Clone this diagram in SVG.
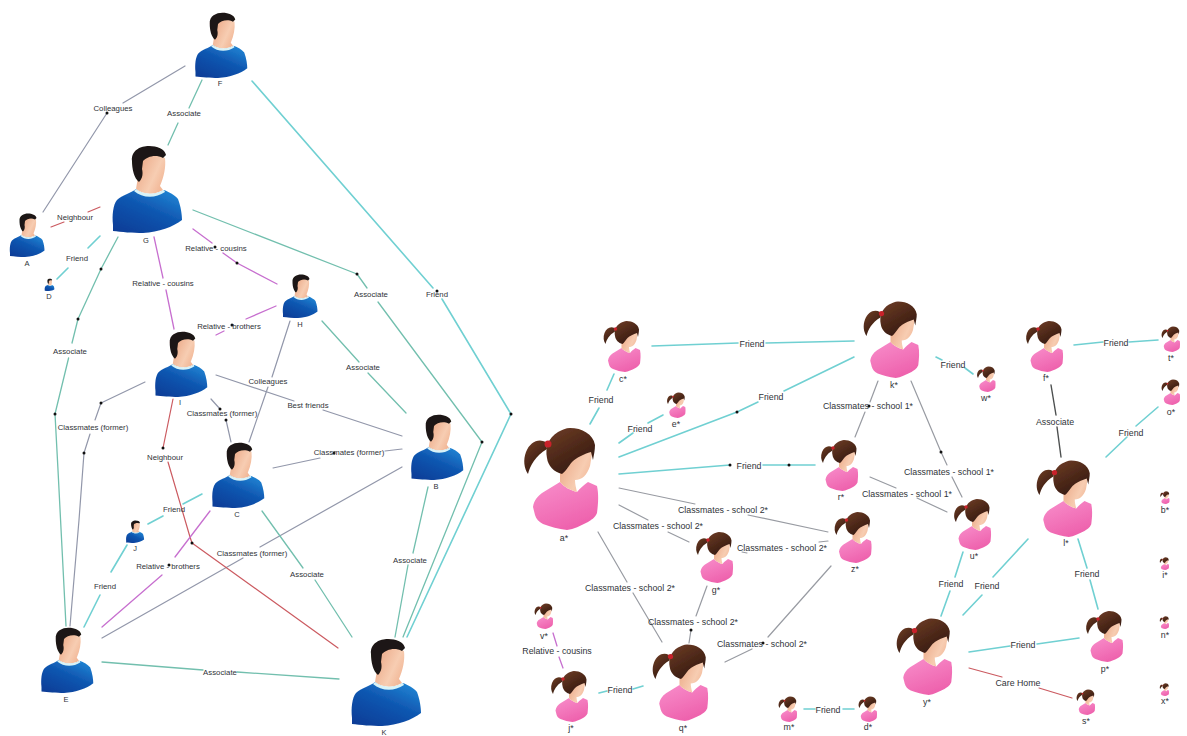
<svg xmlns="http://www.w3.org/2000/svg" width="1187" height="736" viewBox="0 0 1187 736">
<style>
text{font-family:"Liberation Sans",Arial,sans-serif;fill:#2f3338;text-anchor:middle}
.l{font-size:7.8px}
.r{font-size:8.8px}
.n{font-size:7.5px}
.m{font-size:8.8px}
path.c{fill:none;stroke-linecap:round;stroke-linejoin:round}
.fr{stroke:#70d0d2;stroke-width:1.6}
.as{stroke:#72bfae;stroke-width:1.3}
.cl{stroke:#9297aa;stroke-width:1.2}
.sc{stroke:#989ba2;stroke-width:1.2}
.re{stroke:#c76fcf;stroke-width:1.3}
.ne{stroke:#cb5a60;stroke-width:1.2}
.dk{stroke:#4d5050;stroke-width:1.4}
circle.d{fill:#111}
</style>
<defs>
<filter id="soft" x="-10%" y="-10%" width="120%" height="120%"><feGaussianBlur stdDeviation="0.5"/></filter>
<linearGradient id="blue" x1="0" y1="1" x2="0.7" y2="0">
<stop offset="0" stop-color="#0a3a94"/><stop offset="0.6" stop-color="#0f56b0"/><stop offset="1" stop-color="#1f80d0"/>
</linearGradient>
<linearGradient id="skin" x1="0" y1="0" x2="1" y2="0.6">
<stop offset="0" stop-color="#e9a27f"/><stop offset="0.7" stop-color="#f7cdb2"/><stop offset="1" stop-color="#f2b898"/>
</linearGradient>
<linearGradient id="pink" x1="0" y1="0" x2="0.5" y2="1">
<stop offset="0" stop-color="#f88ecb"/><stop offset="1" stop-color="#ee62ad"/>
</linearGradient>
<linearGradient id="brown" x1="0" y1="0" x2="0.6" y2="1">
<stop offset="0" stop-color="#6f3d26"/><stop offset="1" stop-color="#34190f"/>
</linearGradient>
<g id="man" filter="url(#soft)">
<path fill="url(#blue)" d="M-34,-8C-35,-18-34,-28-30,-33C-25,-38-16,-40-11,-44C-4,-37 8,-37 17,-43C22,-41 28,-38 31,-34C34,-26 35,-18 35,-13C26,-6 12,-1-4,0C-14,0-26,-1-34,-2Z"/>
<path fill="url(#skin)" d="M-9,-56L-11,-44C-4,-38 8,-38 16,-43L13,-47C17,-56 19,-66 18,-75C8,-80-2,-78-6,-72Z"/>
<path fill="#d8f3f8" d="M-11,-44C-4,-38 8,-38 17,-43L18,-41C8,-34-5,-35-13,-42Z"/>
<path fill="#1a1412" d="M-15,-72C-16,-83-6,-87 2,-87C10,-87 18,-84 19,-78L16,-75C8,-79 0,-76-4,-72L-5,-64C-4,-60-4,-55-8,-51C-13,-55-15,-64-15,-72Z"/>
</g>
<g id="woman" filter="url(#soft)">
<path fill="url(#pink)" d="M-33,-23C-32,-30-28,-34-24,-37L-6,-48C-2,-43 4,-40 11,-38C14,-42 18,-45 22,-48L31,-44C33,-35 32,-25 31,-17C29,-12 25,-10 22,-8C14,-4 8,-1 1,0C-8,-1-15,-3-23,-6C-27,-8-30,-11-31,-15Z"/>
<path fill="url(#skin)" d="M-6,-58L-6,-48C-2,-43 4,-40 11,-38C10,-42 9,-46 9,-50C16,-50 21,-55 24,-64L27,-82L5,-74Z"/>
<path fill="url(#brown)" d="M-20,-88C-28,-92-36,-88-40,-78C-43,-70-42,-62-38,-56C-36,-64-31,-74-19,-81Z"/>
<path fill="url(#brown)" d="M4,-102C16,-102 27,-96 29,-85C29,-80 28,-76 27,-70L25,-78C18,-76 10,-72 6,-68C2,-63-1,-58-4,-56C-12,-58-18,-64-19,-72C-21,-82-18,-92-8,-98C-4,-100 0,-102 4,-102Z"/>
<circle cx="-18" cy="-86" r="3.5" fill="#c8202a"/>
</g>
</defs>
<rect width="1187" height="736" fill="#fff"/>
<g id="connectors">
<path class="c cl" d="M185,66L123,103M107,113L43,212"/>
<path class="c as" d="M202,80L189,108M178,123L168,145"/>
<path class="c ne" d="M51,227L64,222M88,212L100,207"/>
<path class="c fr" d="M100,236L88,248M68,268L57,279"/>
<path class="c as" d="M118,237L101,269L78,319L72,343M68.600,358L55,414L58,470L66,626"/>
<path class="c cl" d="M145,382L101,403L95,420M90,434L84,453L79,520L70,626"/>
<path class="c re" d="M154,237L163,278M166,290L174,329"/>
<path class="c re" d="M193,229L212,243M223,253L237,263L277,284"/>
<path class="c as" d="M193,210L357,274L367,288M378,302L482,442L403,637"/>
<path class="c fr" d="M252,81L433,288M442,299L511,414L407,637"/>
<path class="c as" d="M322,321L359,362M368,373L406,413"/>
<path class="c re" d="M276,306L246,319M224,331L216,335"/>
<path class="c cl" d="M290,321L272,377M268,387L249,442"/>
<path class="c cl" d="M216,375L294,401M323,410L402,436"/>
<path class="c cl" d="M211,399L220,409M226,420L231,442"/>
<path class="c cl" d="M273,468L320,458M385,451L402,449"/>
<path class="c cl" d="M102,638L243,558M260,547L402,467"/>
<path class="c ne" d="M173,399L163,448M168,462L190,537L192,543L338,648"/>
<path class="c fr" d="M148,524L163,516M183,504L202,494"/>
<path class="c fr" d="M127,545L111,572M100,595L84,627"/>
<path class="c re" d="M210,511L175,557M162,575L102,627"/>
<path class="c as" d="M262,511L303,568M315,580L352,637"/>
<path class="c as" d="M102,662L203,670M237,672L339,679"/>
<path class="c as" d="M428,487L413,553M408,565L395,637"/>
<path class="c fr" d="M599,408L590,424M614,374L607,390"/>
<path class="c fr" d="M652,346L738,343M766,343L854,341"/>
<path class="c fr" d="M619,443L633,433M648,423L663,415"/>
<path class="c fr" d="M619,457L737,412L758,402M784,391L854,357"/>
<path class="c fr" d="M619,474L730,465M763,465L815,465"/>
<path class="c fr" d="M936,357L942,360M965,368L973,374"/>
<path class="c sc" d="M878,381L870,402M865,412L855,437"/>
<path class="c sc" d="M911,381L941,452L947,465M952,477L962,497"/>
<path class="c sc" d="M870,477L896,488M917,498L947,512"/>
<path class="c sc" d="M619,488L695,504M748,515L828,532"/>
<path class="c sc" d="M619,505L648,520M668,532L689,542"/>
<path class="c sc" d="M742,552L747,553M819,542L828,541"/>
<path class="c sc" d="M598,532L627,582M633,593L662,642"/>
<path class="c sc" d="M707,586L696,616M691,630L689,643"/>
<path class="c sc" d="M831,566L768,637M752,649L725,662"/>
<path class="c re" d="M553,633L557,646M559,657L563,668"/>
<path class="c fr" d="M599,693L607,691M633,689L643,686"/>
<path class="c fr" d="M804,709L815,709M843,709L854,709"/>
<path class="c dk" d="M1051,385L1056,415M1057,427L1061,457"/>
<path class="c fr" d="M1074,345L1103,342M1129,342L1158,340"/>
<path class="c fr" d="M1158,407L1136,426M1127,437L1106,457"/>
<path class="c fr" d="M963,552L955,577M950,591L941,616"/>
<path class="c fr" d="M1028,539L993,577M982,595L963,615"/>
<path class="c fr" d="M1078,539L1087,568M1090,580L1098,609"/>
<path class="c fr" d="M969,652L1010,646M1037,644L1079,638"/>
<path class="c ne" d="M969,668L1002,677M1039,688L1072,698"/>
<circle class="d" cx="107" cy="113" r="1.500"/><circle class="d" cx="101" cy="269" r="1.500"/><circle class="d" cx="78" cy="319" r="1.500"/><circle class="d" cx="55" cy="414" r="1.500"/><circle class="d" cx="101" cy="403" r="1.500"/><circle class="d" cx="84" cy="453" r="1.500"/><circle class="d" cx="215" cy="247" r="1.500"/><circle class="d" cx="237" cy="263" r="1.500"/><circle class="d" cx="357" cy="274" r="1.500"/><circle class="d" cx="482" cy="442" r="1.500"/><circle class="d" cx="437" cy="291" r="1.500"/><circle class="d" cx="511" cy="414" r="1.500"/><circle class="d" cx="232" cy="325" r="1.500"/><circle class="d" cx="220" cy="409" r="1.500"/><circle class="d" cx="226" cy="420" r="1.500"/><circle class="d" cx="334" cy="453" r="1.500"/><circle class="d" cx="163" cy="448" r="1.500"/><circle class="d" cx="192" cy="543" r="1.500"/><circle class="d" cx="169" cy="565" r="1.500"/>
<circle class="d" cx="737" cy="412" r="1.500"/><circle class="d" cx="730" cy="465" r="1.500"/><circle class="d" cx="789" cy="465" r="1.500"/><circle class="d" cx="869" cy="406" r="1.500"/><circle class="d" cx="941" cy="452" r="1.500"/><circle class="d" cx="691" cy="630" r="1.500"/><circle class="d" cx="763" cy="643" r="1.500"/>
<text class="l" x="113" y="111">Colleagues</text>
<text class="l" x="184" y="116">Associate</text>
<text class="l" x="75" y="220">Neighbour</text>
<text class="l" x="77" y="261">Friend</text>
<text class="l" x="70" y="354">Associate</text>
<text class="l" x="93" y="430">Classmates (former)</text>
<text class="l" x="163" y="286">Relative - cousins</text>
<text class="l" x="216" y="251">Relative - cousins</text>
<text class="l" x="371" y="297">Associate</text>
<text class="l" x="437" y="297">Friend</text>
<text class="l" x="363" y="370">Associate</text>
<text class="l" x="229" y="329">Relative - brothers</text>
<text class="l" x="268" y="384">Colleagues</text>
<text class="l" x="308" y="408">Best friends</text>
<text class="l" x="222" y="416">Classmates (former)</text>
<text class="l" x="349" y="455">Classmates (former)</text>
<text class="l" x="252" y="556">Classmates (former)</text>
<text class="l" x="165" y="460">Neighbour</text>
<text class="l" x="174" y="512">Friend</text>
<text class="l" x="105" y="589">Friend</text>
<text class="l" x="168" y="569">Relative - brothers</text>
<text class="l" x="307" y="577">Associate</text>
<text class="l" x="220" y="675">Associate</text>
<text class="l" x="410" y="563">Associate</text>
<text class="r" x="601" y="403">Friend</text>
<text class="r" x="752" y="347">Friend</text>
<text class="r" x="640" y="432">Friend</text>
<text class="r" x="771" y="400">Friend</text>
<text class="r" x="749" y="469">Friend</text>
<text class="r" x="953" y="368">Friend</text>
<text class="r" x="868" y="409">Classmates - school 1*</text>
<text class="r" x="949" y="475">Classmates - school 1*</text>
<text class="r" x="907" y="497">Classmates - school 1*</text>
<text class="r" x="723" y="513">Classmates - school 2*</text>
<text class="r" x="658" y="529">Classmates - school 2*</text>
<text class="r" x="782" y="551">Classmates - school 2*</text>
<text class="r" x="630" y="591">Classmates - school 2*</text>
<text class="r" x="693" y="625">Classmates - school 2*</text>
<text class="r" x="762" y="647">Classmates - school 2*</text>
<text class="r" x="557" y="654">Relative - cousins</text>
<text class="r" x="620" y="693">Friend</text>
<text class="r" x="828" y="713">Friend</text>
<text class="r" x="1055" y="425">Associate</text>
<text class="r" x="1116" y="346">Friend</text>
<text class="r" x="1131" y="436">Friend</text>
<text class="r" x="951" y="587">Friend</text>
<text class="r" x="987" y="589">Friend</text>
<text class="r" x="1087" y="577">Friend</text>
<text class="r" x="1023" y="648">Friend</text>
<text class="r" x="1018" y="686">Care Home</text>
</g>
<g id="F"><use href="#man" transform="translate(221 78) scale(.75)"/><text class="n" x="220" y="86">F</text></g>
<g id="G"><use href="#man" transform="translate(147 233) scale(1)"/><text class="n" x="146" y="243">G</text></g>
<g id="A"><use href="#man" transform="translate(27 257) scale(.5)"/><text class="n" x="27" y="266">A</text></g>
<g id="D"><use href="#man" transform="translate(49.500 291) scale(.14)"/><text class="n" x="49" y="299">D</text></g>
<g id="H"><use href="#man" transform="translate(300 318) scale(.5)"/><text class="n" x="300" y="327">H</text></g>
<g id="I"><use href="#man" transform="translate(181 397) scale(.75)"/><text class="n" x="180" y="405">I</text></g>
<g id="C"><use href="#man" transform="translate(238 508) scale(.75)"/><text class="n" x="237" y="517">C</text></g>
<g id="J"><use href="#man" transform="translate(135 543) scale(.26)"/><text class="n" x="135" y="551">J</text></g>
<g id="B"><use href="#man" transform="translate(437 480) scale(.75)"/><text class="n" x="436" y="489">B</text></g>
<g id="E"><use href="#man" transform="translate(67 693) scale(.75)"/><text class="n" x="66" y="702">E</text></g>
<g id="K"><use href="#man" transform="translate(386 726) scale(1)"/><text class="n" x="384" y="735">K</text></g>
<g id="a"><use href="#woman" transform="translate(566 530) scale(1)"/><text class="m" x="564" y="541">a*</text></g>
<g id="c"><use href="#woman" transform="translate(624.500 372) scale(.5)"/><text class="m" x="623" y="382">c*</text></g>
<g id="e"><use href="#woman" transform="translate(677.500 418) scale(.25)"/><text class="m" x="676" y="427">e*</text></g>
<g id="k"><use href="#woman" transform="translate(895 378) scale(.75)"/><text class="m" x="894" y="388">k*</text></g>
<g id="r"><use href="#woman" transform="translate(842 491) scale(.5)"/><text class="m" x="841" y="500">r*</text></g>
<g id="w"><use href="#woman" transform="translate(987.500 392) scale(.25)"/><text class="m" x="986" y="401">w*</text></g>
<g id="f"><use href="#woman" transform="translate(1047 372) scale(.5)"/><text class="m" x="1046" y="381">f*</text></g>
<g id="t"><use href="#woman" transform="translate(1172 352) scale(.25)"/><text class="m" x="1171" y="361">t*</text></g>
<g id="o"><use href="#woman" transform="translate(1172 405) scale(.25)"/><text class="m" x="1171" y="415">o*</text></g>
<g id="l"><use href="#woman" transform="translate(1068 537) scale(.75)"/><text class="m" x="1066" y="546">l*</text></g>
<g id="b"><use href="#woman" transform="translate(1165.500 504) scale(.125)"/><text class="m" x="1165" y="513">b*</text></g>
<g id="u"><use href="#woman" transform="translate(975 550) scale(.5)"/><text class="m" x="974" y="559">u*</text></g>
<g id="z"><use href="#woman" transform="translate(855.500 563) scale(.5)"/><text class="m" x="855" y="572">z*</text></g>
<g id="g"><use href="#woman" transform="translate(717 583) scale(.5)"/><text class="m" x="716" y="593">g*</text></g>
<g id="v"><use href="#woman" transform="translate(545 629) scale(.25)"/><text class="m" x="544" y="639">v*</text></g>
<g id="j"><use href="#woman" transform="translate(572 722) scale(.5)"/><text class="m" x="571" y="731">j*</text></g>
<g id="q"><use href="#woman" transform="translate(684 721) scale(.75)"/><text class="m" x="683" y="731">q*</text></g>
<g id="m"><use href="#woman" transform="translate(789 722) scale(.25)"/><text class="m" x="789" y="730">m*</text></g>
<g id="d"><use href="#woman" transform="translate(869 722) scale(.25)"/><text class="m" x="868" y="730">d*</text></g>
<g id="y"><use href="#woman" transform="translate(928 695) scale(.75)"/><text class="m" x="927" y="705">y*</text></g>
<g id="p"><use href="#woman" transform="translate(1107 662) scale(.5)"/><text class="m" x="1105" y="672">p*</text></g>
<g id="s"><use href="#woman" transform="translate(1087 715) scale(.25)"/><text class="m" x="1086" y="724">s*</text></g>
<g id="i"><use href="#woman" transform="translate(1165 570) scale(.125)"/><text class="m" x="1165" y="578">i*</text></g>
<g id="n"><use href="#woman" transform="translate(1165 629) scale(.125)"/><text class="m" x="1165" y="638">n*</text></g>
<g id="x"><use href="#woman" transform="translate(1165 696) scale(.125)"/><text class="m" x="1165" y="704">x*</text></g>
</svg>
